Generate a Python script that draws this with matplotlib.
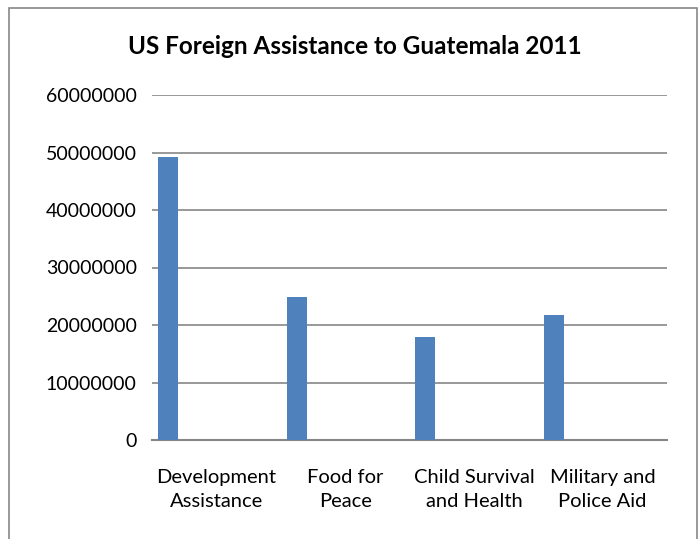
import matplotlib
matplotlib.use("Agg")
import matplotlib.pyplot as plt
from matplotlib.patches import Rectangle
from matplotlib.ticker import FuncFormatter

plt.rcParams['font.family'] = ['Lato', 'DejaVu Sans']

categories = ['Development\nAssistance', 'Food for\nPeace', 'Child Survival\nand Health', 'Military and\nPolice Aid']
values = [49300000, 24900000, 18000000, 21800000]
y_ticks = [0, 10000000, 20000000, 30000000, 40000000, 50000000, 60000000]

W, H = 699, 539
fig = plt.figure(figsize=(W / 100, H / 100), dpi=100)
ax = fig.add_axes([152 / W, 99 / H, (667 - 152) / W, (440 - 95) / H])

# outer chart border (bottom edge runs off the picture)
fig.add_artist(Rectangle((9 / W, -0.05), (697 - 9) / W, (531 + 0.05 * H) / H,
                         transform=fig.transFigure, fill=False,
                         edgecolor='#878787', linewidth=1.2))

x = list(range(len(categories)))
bar_x = [i - 0.376 for i in x]
ax.bar(bar_x, values, width=0.155, color='#4F81BD', zorder=3)

ax.set_xlim(-0.5, len(categories) - 0.5)
ax.set_ylim(0, 60000000)
ax.set_yticks(y_ticks)
ax.yaxis.set_major_formatter(FuncFormatter(lambda v, p: '%d' % v))
ax.grid(axis='y', color='#868686', linewidth=1.2, zorder=0)
ax.set_xticks(x)
ax.set_xticklabels(categories, linespacing=1.5)

for s in ['top', 'right', 'left']:
    ax.spines[s].set_visible(False)
ax.spines['bottom'].set_color('#868686')
ax.spines['bottom'].set_linewidth(1.5)
ax.tick_params(axis='both', length=0, labelsize=14, colors='black')
ax.tick_params(axis='x', labelsize=14.5, pad=21)
ax.tick_params(axis='y', pad=11)

fig.text(355 / W, 1 - 47 / H, 'US Foreign Assistance to Guatemala 2011',
         ha='center', va='center', fontsize=17.5, fontweight='bold')

fig.savefig('out.png', dpi=100)
